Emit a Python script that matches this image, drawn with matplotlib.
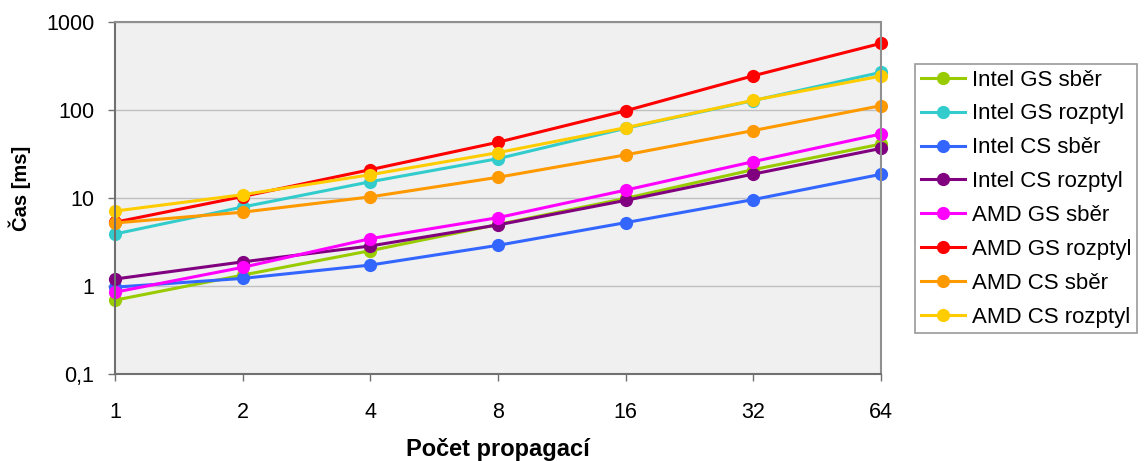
import matplotlib
matplotlib.use("Agg")
import matplotlib.pyplot as plt
from matplotlib.ticker import FixedLocator, FixedFormatter, NullLocator

plt.rcParams['font.family'] = ['Liberation Sans', 'DejaVu Sans']

x_labels = ["1", "2", "4", "8", "16", "32", "64"]

series_names = ["Intel GS sběr", "Intel GS rozptyl", "Intel CS sběr", "Intel CS rozptyl",
                "AMD GS sběr", "AMD GS rozptyl", "AMD CS sběr", "AMD CS rozptyl"]

intel_gs_sber = [0.69, 1.33, 2.52, 5.0, 9.9, 21.0, 41.0]
intel_gs_rozptyl = [3.9, 7.9, 15.3, 28.0, 62.0, 128.0, 268.0]
intel_cs_sber = [0.97, 1.22, 1.73, 2.9, 5.25, 9.6, 18.6]
intel_cs_rozptyl = [1.2, 1.88, 2.85, 4.95, 9.4, 18.7, 36.6]
amd_gs_sber = [0.85, 1.63, 3.45, 5.98, 12.3, 25.9, 53.4]
amd_gs_rozptyl = [5.3, 10.4, 21.0, 43.0, 98.0, 245.0, 572.0]
amd_cs_sber = [5.2, 6.9, 10.3, 17.2, 30.9, 58.4, 112.0]
amd_cs_rozptyl = [7.1, 10.9, 18.4, 32.8, 63.0, 129.0, 243.0]

data = [intel_gs_sber, intel_gs_rozptyl, intel_cs_sber, intel_cs_rozptyl,
        amd_gs_sber, amd_gs_rozptyl, amd_cs_sber, amd_cs_rozptyl]
colors = ["#99CC00", "#33CCCC", "#3366FF", "#800080",
          "#FF00FF", "#FF0000", "#FF9900", "#FFCC00"]

y_ticks = [0.1, 1, 10, 100, 1000]
y_labels = ["0,1", "1", "10", "100", "1000"]

fig = plt.figure(figsize=(11.44, 4.61), dpi=100)
ax = fig.add_axes([115/1144, 87/461, (881-115)/1144, (374-22)/461])
ax.set_facecolor("#F0F0F0")

xs = list(range(len(x_labels)))
for name, vals, c in zip(series_names, data, colors):
    ax.plot(xs, vals, color=c, lw=2.2, marker='o', markersize=9.5,
            markeredgewidth=0, label=name, clip_on=False)

ax.set_yscale('log')
ax.set_ylim(0.1, 1000)
ax.set_xlim(0, len(x_labels) - 1)
ax.yaxis.set_major_locator(FixedLocator(y_ticks))
ax.yaxis.set_major_formatter(FixedFormatter(y_labels))
ax.yaxis.set_minor_locator(NullLocator())
ax.set_xticks(xs)
ax.set_xticklabels(x_labels)

ax.grid(axis='y', color="#C0C0C0", lw=1)
ax.set_axisbelow(True)
for side in ['left', 'bottom']:
    ax.spines[side].set_color("#707070")
    ax.spines[side].set_linewidth(1.5)
for side in ['right', 'top']:
    ax.spines[side].set_color("#909090")
    ax.spines[side].set_linewidth(1.5)

ax.tick_params(axis='both', labelsize=15.5, direction='out', length=5, color="#707070", width=1)
ax.tick_params(axis='x', pad=15)
ax.tick_params(axis='y', pad=10)

ax.set_xlabel("Počet propagací", fontsize=17, fontweight='bold', labelpad=11)
ax.set_ylabel("Čas [ms]", fontsize=14.5, fontweight='bold', labelpad=11, y=0.526)

leg = fig.legend(loc='upper left', bbox_to_anchor=(915/1144, 1 - 64/461),
                 frameon=True, fancybox=False, fontsize=16, handlelength=2.0,
                 labelspacing=0.58, borderpad=0.25, handletextpad=0.3, borderaxespad=0)
leg.get_frame().set_edgecolor("#808080")
leg.get_frame().set_linewidth(1.2)

fig.savefig("out.png", dpi=100)
